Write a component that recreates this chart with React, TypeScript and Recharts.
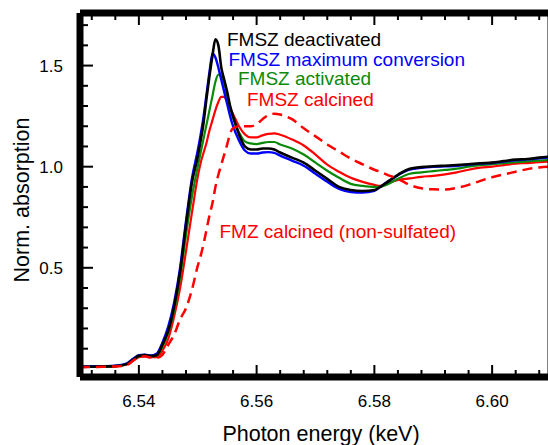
import React from 'react'
import { LineChart, Line, XAxis, YAxis } from 'recharts'

// photon energy grid (keV), finer around the white line
const energy = [
  6.530, 6.533, 6.536, 6.538, 6.539, 6.540, 6.541, 6.542, 6.543, 6.544,
  6.545, 6.546, 6.547, 6.548, 6.549, 6.550, 6.5505, 6.551, 6.5515, 6.552,
  6.5525, 6.553, 6.5535, 6.554, 6.5545, 6.555, 6.5555, 6.556, 6.557, 6.558,
  6.559, 6.560, 6.561, 6.562, 6.563, 6.564, 6.566, 6.568, 6.570, 6.572,
  6.574, 6.576, 6.578, 6.580, 6.581, 6.582, 6.584, 6.586, 6.588, 6.590,
  6.592, 6.594, 6.596, 6.598, 6.600, 6.602, 6.604, 6.606, 6.608, 6.610,
]

const deactivated = [
  0.010, 0.012, 0.014, 0.025, 0.045, 0.065, 0.068, 0.064, 0.068, 0.12,
  0.19, 0.31, 0.48, 0.71, 0.92, 1.05, 1.13, 1.22, 1.34, 1.45,
  1.55, 1.63, 1.60, 1.49, 1.43, 1.37, 1.30, 1.25, 1.16, 1.10,
  1.085, 1.085, 1.09, 1.09, 1.085, 1.07, 1.045, 1.02, 0.98, 0.94,
  0.90, 0.885, 0.88, 0.885, 0.90, 0.92, 0.96, 0.99, 0.998, 1.002,
  1.005, 1.008, 1.012, 1.017, 1.020, 1.028, 1.035, 1.038, 1.045, 1.05,
]

const maxConversion = [
  0.012, 0.013, 0.016, 0.028, 0.05, 0.068, 0.07, 0.066, 0.075, 0.13,
  0.21, 0.33, 0.50, 0.73, 0.94, 1.08, 1.16, 1.25, 1.36, 1.47,
  1.56, 1.54, 1.49, 1.43, 1.37, 1.31, 1.25, 1.20, 1.13, 1.08,
  1.065, 1.065, 1.07, 1.072, 1.068, 1.055, 1.03, 1.005, 0.965, 0.925,
  0.89, 0.875, 0.872, 0.88, 0.90, 0.92, 0.958, 0.985, 0.995, 1.0,
  1.002, 1.005, 1.01, 1.015, 1.018, 1.025, 1.032, 1.036, 1.042, 1.047,
]

const activated = [
  0.010, 0.012, 0.014, 0.024, 0.045, 0.063, 0.066, 0.062, 0.065, 0.11,
  0.18, 0.29, 0.45, 0.66, 0.85, 1.00, 1.07, 1.14, 1.21, 1.28,
  1.35, 1.42, 1.455, 1.45, 1.41, 1.35, 1.29, 1.24, 1.17, 1.125,
  1.115, 1.112, 1.118, 1.122, 1.122, 1.11, 1.09, 1.06, 1.02, 0.98,
  0.945, 0.915, 0.905, 0.90, 0.90, 0.91, 0.94, 0.965, 0.972, 0.978,
  0.984, 0.99, 1.0, 1.008, 1.012, 1.018, 1.022, 1.026, 1.03, 1.034,
]

const calcined = [
  0.010, 0.011, 0.013, 0.022, 0.04, 0.058, 0.062, 0.058, 0.058, 0.09,
  0.15, 0.26, 0.40, 0.58, 0.77, 0.95, 1.02, 1.07, 1.12, 1.18,
  1.23, 1.28, 1.32, 1.345, 1.345, 1.32, 1.29, 1.26, 1.20, 1.16,
  1.145, 1.145, 1.155, 1.162, 1.165, 1.158, 1.135, 1.105, 1.06, 1.01,
  0.975, 0.945, 0.925, 0.91, 0.905, 0.915, 0.935, 0.942, 0.95, 0.955,
  0.962, 0.972, 0.985, 0.995, 1.0, 1.008, 1.015, 1.018, 1.022, 1.026,
]

const nonSulfated = [
  0.008, 0.010, 0.012, 0.020, 0.04, 0.058, 0.062, 0.056, 0.055, 0.07,
  0.12, 0.17, 0.245, 0.30, 0.39, 0.51, 0.56, 0.62, 0.69, 0.76,
  0.82, 0.90, 0.96, 1.01, 1.06, 1.11, 1.165, 1.19, 1.20, 1.20,
  1.20, 1.21, 1.235, 1.255, 1.262, 1.258, 1.235, 1.19, 1.15, 1.11,
  1.075, 1.04, 1.012, 0.985, 0.975, 0.962, 0.94, 0.91, 0.893, 0.888,
  0.887, 0.895, 0.91, 0.93, 0.948, 0.962, 0.975, 0.988, 0.996, 1.0,
]

const xTicks = [
  6.532, 6.536, 6.54, 6.544, 6.548, 6.552, 6.556, 6.56, 6.564, 6.568,
  6.572, 6.576, 6.58, 6.584, 6.588, 6.592, 6.596, 6.60, 6.604, 6.608,
]
const xMajor = [6.54, 6.56, 6.58, 6.60]
const yTicks = [0.1, 0.2, 0.3, 0.4, 0.5, 0.6, 0.7, 0.8, 0.9, 1.0, 1.1, 1.2, 1.3, 1.4, 1.5, 1.6, 1.7]
const yMajor = [0.5, 1.0, 1.5]

const data = energy.map((e, i) => ({
  e,
  deactivated: deactivated[i],
  maxConversion: maxConversion[i],
  activated: activated[i],
  calcined: calcined[i],
  nonSulfated: nonSulfated[i],
}))

const FONT = '"Liberation Sans", Arial, Helvetica, sans-serif'
const isIn = (list: number[], v: number) => list.some(m => Math.abs(m - v) < 1e-6)

const axisLine = { stroke: '#000', strokeWidth: 7 }

// ticks point into the plot; labels only on major ticks
const BottomTick = (props: any) => {
  const { x, y, payload } = props
  const major = isIn(xMajor, payload.value)
  return (
    <g>
      <line x1={x} y1={y} x2={x} y2={y - (major ? 12 : 7)} stroke="#000" strokeWidth={2} />
      {major && (
        <text x={x} y={y + 30} textAnchor="middle" fontSize={17} fontFamily={FONT} fill="#000">
          {payload.value.toFixed(2)}
        </text>
      )}
    </g>
  )
}

const TopTick = (props: any) => {
  const { x, y, payload } = props
  const major = isIn(xMajor, payload.value)
  return <line x1={x} y1={y} x2={x} y2={y + (major ? 12 : 7)} stroke="#000" strokeWidth={2} />
}

const LeftTick = (props: any) => {
  const { x, y, payload } = props
  const major = isIn(yMajor, payload.value)
  return (
    <g>
      <line x1={x} y1={y} x2={x + (major ? 13 : 8)} y2={y} stroke="#000" strokeWidth={2} />
      {major && (
        <text x={x - 17} y={y + 6} textAnchor="end" fontSize={17} fontFamily={FONT} fill="#000">
          {payload.value.toFixed(1)}
        </text>
      )}
    </g>
  )
}

const RightTick = (props: any) => {
  const { x, y, payload } = props
  const major = isIn(yMajor, payload.value)
  return <line x1={x} y1={y} x2={x - (major ? 13 : 8)} y2={y} stroke="#000" strokeWidth={2} />
}

const labels = [
  { text: 'FMSZ deactivated', color: '#000000', x: 227, y: 46 },
  { text: 'FMSZ maximum conversion', color: '#0000ff', x: 228.5, y: 65.5 },
  { text: 'FMSZ activated', color: '#0a8a0a', x: 238, y: 85 },
  { text: 'FMSZ calcined', color: '#ff0000', x: 247, y: 106 },
  { text: 'FMZ calcined (non-sulfated)', color: '#ff0000', x: 219.5, y: 238 },
]

export default function App() {
  return (
    <div style={{ position: 'fixed', left: 0, top: 0, width: 548, height: 445, overflow: 'hidden', background: '#fff' }}>
      <LineChart width={560} height={445} data={data} margin={{ top: 12, right: 8, bottom: 0, left: 0 }}>
        <XAxis
          dataKey="e"
          type="number"
          domain={[6.53, 6.61]}
          ticks={xTicks}
          interval={0}
          height={68}
          tickSize={0}
          tickMargin={0}
          axisLine={axisLine}
          tickLine={false}
          tick={<BottomTick />}
        />
        <XAxis
          xAxisId="top"
          orientation="top"
          dataKey="e"
          type="number"
          domain={[6.53, 6.61]}
          ticks={xTicks}
          interval={0}
          height={1}
          tickSize={0}
          tickMargin={0}
          axisLine={axisLine}
          tickLine={false}
          tick={<TopTick />}
        />
        <YAxis
          type="number"
          domain={[-0.04, 1.76]}
          ticks={yTicks}
          interval={0}
          width={80}
          tickSize={0}
          tickMargin={0}
          axisLine={axisLine}
          tickLine={false}
          tick={<LeftTick />}
        />
        <YAxis
          yAxisId="right"
          orientation="right"
          type="number"
          domain={[-0.04, 1.76]}
          ticks={yTicks}
          interval={0}
          width={1}
          tickSize={0}
          tickMargin={0}
          axisLine={axisLine}
          tickLine={false}
          tick={<RightTick />}
        />
        <Line dataKey="calcined" type="monotone" stroke="#ff0000" strokeWidth={2.2} dot={false} isAnimationActive={false} />
        <Line dataKey="activated" type="monotone" stroke="#0a8a0a" strokeWidth={2.2} dot={false} isAnimationActive={false} />
        <Line dataKey="maxConversion" type="monotone" stroke="#0000ff" strokeWidth={2.4} dot={false} isAnimationActive={false} />
        <Line dataKey="deactivated" type="monotone" stroke="#000000" strokeWidth={2.6} dot={false} isAnimationActive={false} />
        <Line dataKey="nonSulfated" type="monotone" stroke="#ff0000" strokeWidth={2.5} strokeDasharray="10 6" dot={false} isAnimationActive={false} />
      </LineChart>
      <svg width={548} height={445} style={{ position: 'absolute', left: 0, top: 0, pointerEvents: 'none' }}>
        {labels.map(l => (
          <text key={l.text} x={l.x} y={l.y} fontSize={19} fontFamily={FONT} fill={l.color}>
            {l.text}
          </text>
        ))}
        <text x={321} y={441} textAnchor="middle" fontSize={21.5} fontFamily={FONT} fill="#000">
          Photon energy (keV)
        </text>
        <text x={29} y={200} transform="rotate(-90 29 200)" textAnchor="middle" fontSize={21.5} fontFamily={FONT} fill="#000">
          Norm. absorption
        </text>
      </svg>
    </div>
  )
}
